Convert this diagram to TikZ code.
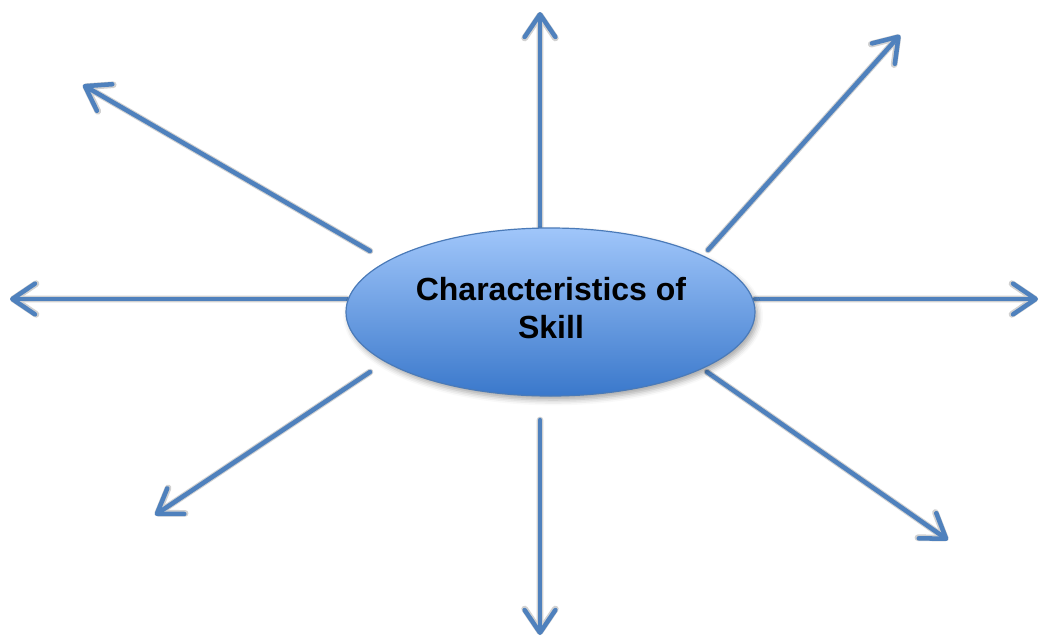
\documentclass[tikz,border=0pt]{standalone}
\usepackage{fontspec}
\setmainfont{Liberation Sans}
\usetikzlibrary{arrows.meta,shapes.geometric,shadows.blur}
\definecolor{arrowblue}{HTML}{4F81BD}
\definecolor{elltop}{HTML}{A0C6FA}
\definecolor{ellbot}{HTML}{3A78CB}
\definecolor{ellborder}{HTML}{4A7AB8}
\tikzset{
  spoke/.style={draw=arrowblue, line width=3.4pt, line cap=round,
    -{Straight Barb[length=17pt,width=23pt,line cap=round,line join=round]}},
  spokeshadow/.style={draw=black, line width=5pt, line cap=round,
    -{Straight Barb[length=17pt,width=23pt,line cap=round,line join=round]}},
  hub/.style={ellipse, draw=ellborder, line width=0.9pt, inner sep=0pt,
    minimum width=306.75pt, minimum height=126pt,
    top color=elltop, bottom color=ellbot,
    blur shadow={shadow xshift=2pt, shadow yshift=-3pt, shadow blur radius=4pt, shadow opacity=35}},
  lbl/.style={font=\bfseries\fontsize{24}{28.5}\selectfont, align=center, text=black, inner sep=0pt}
}
\begin{document}
\begin{tikzpicture}[x=0.75pt,y=-0.75pt]
\useasboundingbox (0,0) rectangle (1040,637);
% endpoints
\coordinate (s1) at (540,228);  \coordinate (e1) at (540,12);
\coordinate (s2) at (708,250);  \coordinate (e2) at (900,35);
\coordinate (s3) at (755,299);  \coordinate (e3) at (1038,299);
\coordinate (s4) at (707,372);  \coordinate (e4) at (948,540);
\coordinate (s5) at (540,420);  \coordinate (e5) at (540,635);
\coordinate (s6) at (370,372);  \coordinate (e6) at (155,515);
\coordinate (s7) at (347,299);  \coordinate (e7) at (10,299);
\coordinate (s8) at (370,251);  \coordinate (e8) at (83,85);
% shadows
\begin{scope}[transparency group, opacity=0.18, xshift=1.8pt, yshift=-2.6pt]
  \foreach \i in {1,...,8} { \draw[spokeshadow] (s\i) -- (e\i); }
\end{scope}
% spokes
\foreach \i in {1,...,8} { \draw[spoke] (s\i) -- (e\i); }
% hub
\node[hub] (hub) at (550.5,312) {};
\node[lbl] (title) at (551,308.5) {Characteristics of\\Skill};
\end{tikzpicture}
\end{document}
